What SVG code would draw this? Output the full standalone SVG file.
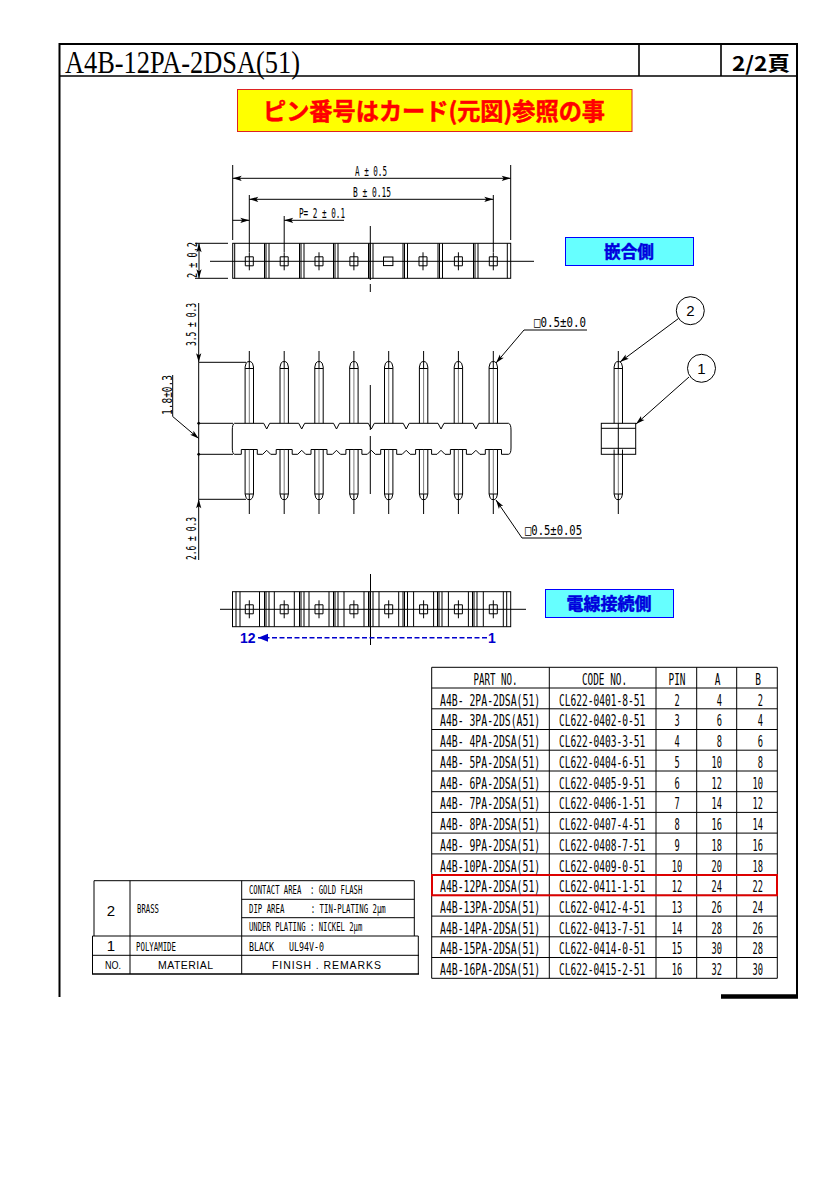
<svg xmlns="http://www.w3.org/2000/svg" width="835" height="1181" viewBox="0 0 835 1181">
<style>
.s{fill:none;stroke:#000;stroke-width:1}
.c{fill:none;stroke:#444;stroke-width:.7}
text{fill:#000;font-family:"DejaVu Sans Mono","Noto Sans CJK JP",monospace;white-space:pre;}
.t{font-size:15px}
.d{font-size:13.5px}
.f{font-size:12.5px}
.sa{font-family:"Liberation Sans",sans-serif}
.cjk{font-family:"Noto Sans CJK JP",sans-serif;font-weight:700}
.bl{font-size:17px;fill:#00d;stroke:#00d;stroke-width:.5}
</style>
<defs>
<marker id="a" markerUnits="userSpaceOnUse" markerWidth="11" markerHeight="7" viewBox="-10 -3.5 11 7" refX="0" refY="0" orient="auto-start-reverse"><path d="M-9,-2.6L0,0L-9,2.6L-7,0Z" fill="#000"/></marker>
<marker id="b" markerUnits="userSpaceOnUse" markerWidth="12" markerHeight="9" viewBox="-11 -4.5 12 9" refX="0" refY="0" orient="auto"><path d="M-10,-4L0,0L-10,4Z" fill="#00c"/></marker>
<g id="pinfront">
<path class="s" d="M-4.2,423.3V367Q-3.5,362 -1.5,361.7H1.5Q3.5,362 4.2,367V423.3M-4.2,368.5H4.2"/>
<path class="s" d="M-4.2,449.5V494Q-3.5,499 -1.5,499.5H1.5Q3.5,499 4.2,494V449.5M-4.2,494H4.2"/>
<path class="s" d="M0,351V369M0,494V514"/>
<path class="c" d="M0,369V423.3M0,449.5V494"/>
</g>
<g id="cell"><path class="s" d="M-4,-4.5H4V4.5H-4Z"/><path class="s" d="M0,-9V9"/></g>
<path id="sep" class="s" d="M-2.5,0V35M-1,0V35M2,0V35"/>
</defs>
<rect width="835" height="1181" fill="#fff"/>

<g id="frame">
<path d="M59.5,997V44H797V997" fill="none" stroke="#000" stroke-width="2"/>
<path d="M59.5,76H797M639,44V76M721,44V76" fill="none" stroke="#000" stroke-width="1.6"/>
<path d="M721,996.5H798" stroke="#000" stroke-width="4.5"/>
<text x="65" y="72.5" textLength="235" lengthAdjust="spacingAndGlyphs" style="font-family:'Liberation Serif',serif;font-size:31px">A4B-12PA-2DSA(51)</text>
<text x="732" y="71" textLength="58" lengthAdjust="spacingAndGlyphs" style="font-family:'Noto Sans CJK JP',sans-serif;font-size:20px;font-weight:700">2/2頁</text>
</g>

<g id="note-pin-number">
<rect x="237.5" y="89.5" width="394.5" height="42" fill="#ff0" stroke="#d22" stroke-width="1"/>
<text class="cjk" x="263" y="120" textLength="342" lengthAdjust="spacingAndGlyphs" style="font-size:24px;fill:#f00;stroke:#f00;stroke-width:.5">ピン番号はカード(元図)参照の事</text>
</g>

<g id="label-mating">
<rect x="565.5" y="237.5" width="128" height="28" fill="#6ff" stroke="#00f" stroke-width="1"/>
<text class="cjk bl" x="604" y="258" textLength="50" lengthAdjust="spacingAndGlyphs">嵌合側</text>
</g>
<g id="label-wire">
<rect x="545.5" y="589.5" width="128" height="28" fill="#6ff" stroke="#00f" stroke-width="1"/>
<text class="cjk bl" x="566.5" y="610" textLength="85" lengthAdjust="spacingAndGlyphs">電線接続側</text>
</g>

<g id="top-view">
<rect class="s" x="232.7" y="243.3" width="278" height="35"/>
<path class="s" d="M234.7,243.3V278.3M507.3,243.3V278.3M210,261.3H534M370.3,226V280M370.3,284V292"/>
<use href="#sep" x="267" y="243.3"/><use href="#sep" x="302" y="243.3"/><use href="#sep" x="336" y="243.3"/><use href="#sep" x="371" y="243.3"/><use href="#sep" x="405.5" y="243.3"/><use href="#sep" x="440.5" y="243.3"/><use href="#sep" x="476" y="243.3"/>
<use href="#cell" x="249.3" y="261.3"/><use href="#cell" x="284.2" y="261.3"/><use href="#cell" x="319" y="261.3"/><use href="#cell" x="353.9" y="261.3"/>
<rect class="s" x="383.5" y="257" width="9.4" height="8.6"/>
<use href="#cell" x="423" y="261.3"/><use href="#cell" x="458.4" y="261.3"/><use href="#cell" x="493.3" y="261.3"/>
</g>

<g id="connectors">
<path class="s" d="M232.7,165V240M510.7,165V240M249.3,195V252M493.3,195V252M284.2,216V252"/>
<path class="s" d="M232.7,178.3H510.7" marker-start="url(#a)" marker-end="url(#a)"/>
<path class="s" d="M249.3,199.3H493.3" marker-start="url(#a)" marker-end="url(#a)"/>
<path class="s" d="M232.7,220.3H249.3" marker-end="url(#a)"/>
<path class="s" d="M344,220.3H284.2" marker-end="url(#a)"/>
<path class="s" d="M195,243.3H228M195,278.3H228"/>
<path class="s" d="M199,243.3V278.3" marker-start="url(#a)" marker-end="url(#a)"/>
<path class="s" d="M198.7,303V362.3" marker-end="url(#a)"/>
<path class="s" d="M198.7,362.3V454.3"/>
<path class="s" d="M198.7,560V499.3" marker-end="url(#a)"/>
<path class="s" d="M198.7,362.3H246M198.7,423.3H233M198.7,454.3H233M198.7,499.3H246M198.7,454.3V499.3"/>
<circle cx="198.7" cy="423.3" r="1.4"/><circle cx="198.7" cy="454.3" r="1.4"/>
<path class="s" d="M172.7,375V416.5L198.7,438.5" marker-end="url(#a)"/>
<path class="s" d="M587,330H524L496,363" marker-end="url(#a)"/>
<path class="s" d="M582,538H522L496,500" marker-end="url(#a)"/>
<path class="s" d="M678.5,318.5L620,362" marker-end="url(#a)"/>
<path class="s" d="M689,377L636,424" marker-end="url(#a)"/>
</g>

<g id="dim-texts">
<text class="d" x="355" y="176" textLength="32" lengthAdjust="spacingAndGlyphs">A ± 0.5</text>
<text class="d" x="353" y="197" textLength="38" lengthAdjust="spacingAndGlyphs">B ± 0.15</text>
<text class="d" x="299" y="218" textLength="46" lengthAdjust="spacingAndGlyphs">P= 2 ± 0.1</text>
<text class="d" transform="translate(197,278) rotate(-90)" textLength="36" lengthAdjust="spacingAndGlyphs">2 ± 0.2</text>
<text class="d" transform="translate(196,346) rotate(-90)" textLength="43" lengthAdjust="spacingAndGlyphs">3.5 ± 0.3</text>
<text class="d" transform="translate(196,560) rotate(-90)" textLength="43" lengthAdjust="spacingAndGlyphs">2.6 ± 0.3</text>
<text class="d" transform="translate(171.5,415) rotate(-90)" textLength="40" lengthAdjust="spacingAndGlyphs">1.8±0.3</text>
<text class="d" x="534" y="327" textLength="52" lengthAdjust="spacingAndGlyphs">□0.5±0.0</text>
<text class="d" x="525" y="535" textLength="57" lengthAdjust="spacingAndGlyphs">□0.5±0.05</text>
</g>

<g id="front-view">
<path class="s" d="M234.5,423.3H263.7L266.7,429L269.7,423.3H298.7L301.7,429L304.7,423.3H333.5L336.5,429L339.5,423.3H368.3L371.3,429L374.3,423.3H403.2L406.2,429L409.2,423.3H438L441,429L444,423.3H472.9L475.9,429L478.9,423.3H508.5Q511,424 511,430V448Q511,454 508.5,454.3H501.5V449.5H485.3V454.3H479.9L475.9,450.3L471.9,454.3H466.4V449.5H450.4V454.3H445L441,450.3L437,454.3H431.6V449.5H415.6V454.3H410.2L406.2,450.3L402.2,454.3H396.7V449.5H380.7V454.3H375.3L371.3,450.3L367.3,454.3H361.9V449.5H345.9V454.3H340.5L336.5,450.3L332.5,454.3H327V449.5H311V454.3H305.7L301.7,450.3L297.7,454.3H292.2V449.5H276.2V454.3H270.7L266.7,450.3L262.7,454.3H257.3V449.5H241.3V454.3H234.5Q232.3,454 232.3,448V430Q232.3,424 234.5,423.3Z"/>
<use href="#pinfront" x="249.3"/><use href="#pinfront" x="284.2"/><use href="#pinfront" x="319"/><use href="#pinfront" x="353.9"/><use href="#pinfront" x="388.7"/><use href="#pinfront" x="423.6"/><use href="#pinfront" x="458.4"/><use href="#pinfront" x="493.3"/>
<path class="s" d="M370.3,385V430M370.3,436V494"/>
</g>

<g id="side-view">
<use href="#pinfront" x="618.3"/>
<rect class="s" x="601.3" y="423.3" width="34.4" height="31"/>
<path class="s" d="M601.3,428.3H635.7M601.3,448.3H635.7M618.3,423.3V454.3"/>
</g>
<g id="balloon-2"><circle class="s" cx="690.3" cy="310.7" r="14"/><text class="sa" x="690.3" y="316" text-anchor="middle" style="font-size:15px">2</text></g>
<g id="balloon-1"><circle class="s" cx="701.5" cy="368.3" r="14"/><text class="sa" x="701.5" y="373.5" text-anchor="middle" style="font-size:15px">1</text></g>

<g id="bottom-view">
<rect class="s" x="232.5" y="591.7" width="278.2" height="35"/>
<path class="s" d="M236,591.7V626.7M506.7,591.7V626.7M240,591.7V626.7M259.5,591.7V626.7M274.3,591.7V626.7M294.3,591.7V626.7M309,591.7V626.7M329,591.7V626.7M344,591.7V626.7M364,591.7V626.7M379,591.7V626.7M398.7,591.7V626.7M413.6,591.7V626.7M433.6,591.7V626.7M448.4,591.7V626.7M468.4,591.7V626.7M483.3,591.7V626.7M503.3,591.7V626.7"/>
<use href="#sep" x="267" y="591.7"/><use href="#sep" x="302" y="591.7"/><use href="#sep" x="336" y="591.7"/><use href="#sep" x="371" y="591.7"/><use href="#sep" x="405.5" y="591.7"/><use href="#sep" x="440" y="591.7"/><use href="#sep" x="475" y="591.7"/>
<use href="#cell" x="249.3" y="609.3"/><use href="#cell" x="284.2" y="609.3"/><use href="#cell" x="319" y="609.3"/><use href="#cell" x="353.9" y="609.3"/><use href="#cell" x="388.7" y="609.3"/><use href="#cell" x="423.6" y="609.3"/><use href="#cell" x="458.4" y="609.3"/><use href="#cell" x="493.3" y="609.3"/>
<path class="s" d="M220,609.3H526M370.5,574V645"/>
</g>
<g id="pin-order">
<path d="M487,637.7H258" fill="none" stroke="#00c" stroke-width="1.6" stroke-dasharray="5 2.5" marker-end="url(#b)"/>
<text class="sa" x="240" y="643" style="font-size:14px;font-weight:700;fill:#00c">12</text>
<text class="sa" x="488" y="643" style="font-size:14px;font-weight:700;fill:#00c">1</text>
</g>

<g id="part-table">
<path class="s" d="M431.7,667.3H777.3V978.3H431.7ZM549.3,667.3V978.3M656,667.3V978.3M696.7,667.3V978.3M736.7,667.3V978.3M431.7,688H777.3M431.7,708.8H777.3M431.7,729.5H777.3M431.7,750.2H777.3M431.7,771H777.3M431.7,791.7H777.3M431.7,812.4H777.3M431.7,833.1H777.3M431.7,853.9H777.3M431.7,874.6H777.3M431.7,895.3H777.3M431.7,916.1H777.3M431.7,936.8H777.3M431.7,957.5H777.3"/>
<rect x="432" y="875" width="345" height="20.3" fill="none" stroke="#d00" stroke-width="2"/>
<g class="t" text-anchor="middle">
<g transform="translate(495.5 0) scale(.61 1)"><text y="685">PART NO.</text></g>
<g transform="translate(604.5 0) scale(.625 1)"><text y="685">CODE NO.</text></g>
<g transform="translate(677 0) scale(.63 1)"><text y="685">PIN</text></g>
<g transform="translate(717.5 0) scale(.63 1)"><text y="685">A</text></g>
<g transform="translate(758 0) scale(.63 1)"><text y="685">B</text></g>
</g>
<g class="t" transform="translate(440 0) scale(.653 1)">
<text y="705.8">A4B- 2PA-2DSA(51)</text>
<text y="726.5">A4B- 3PA-2DS(A51)</text>
<text y="747.2">A4B- 4PA-2DSA(51)</text>
<text y="768">A4B- 5PA-2DSA(51)</text>
<text y="788.7">A4B- 6PA-2DSA(51)</text>
<text y="809.4">A4B- 7PA-2DSA(51)</text>
<text y="830.1">A4B- 8PA-2DSA(51)</text>
<text y="850.9">A4B- 9PA-2DSA(51)</text>
<text y="871.6">A4B-10PA-2DSA(51)</text>
<text y="892.3">A4B-12PA-2DSA(51)</text>
<text y="913.1">A4B-13PA-2DSA(51)</text>
<text y="933.8">A4B-14PA-2DSA(51)</text>
<text y="954.5">A4B-15PA-2DSA(51)</text>
<text y="975.3">A4B-16PA-2DSA(51)</text>
</g>
<g class="t" transform="translate(559 0) scale(.637 1)">
<text y="705.8">CL622-0401-8-51</text>
<text y="726.5">CL622-0402-0-51</text>
<text y="747.2">CL622-0403-3-51</text>
<text y="768">CL622-0404-6-51</text>
<text y="788.7">CL622-0405-9-51</text>
<text y="809.4">CL622-0406-1-51</text>
<text y="830.1">CL622-0407-4-51</text>
<text y="850.9">CL622-0408-7-51</text>
<text y="871.6">CL622-0409-0-51</text>
<text y="892.3">CL622-0411-1-51</text>
<text y="913.1">CL622-0412-4-51</text>
<text y="933.8">CL622-0413-7-51</text>
<text y="954.5">CL622-0414-0-51</text>
<text y="975.3">CL622-0415-2-51</text>
</g>
<g class="t" text-anchor="middle" transform="translate(677 0) scale(.58 1)">
<text y="705.8">2</text><text y="726.5">3</text><text y="747.2">4</text><text y="768">5</text><text y="788.7">6</text><text y="809.4">7</text><text y="830.1">8</text><text y="850.9">9</text><text y="871.6">10</text><text y="892.3">12</text><text y="913.1">13</text><text y="933.8">14</text><text y="954.5">15</text><text y="975.3">16</text>
</g>
<g class="t" text-anchor="end" transform="translate(722 0) scale(.58 1)">
<text y="705.8">4</text><text y="726.5">6</text><text y="747.2">8</text><text y="768">10</text><text y="788.7">12</text><text y="809.4">14</text><text y="830.1">16</text><text y="850.9">18</text><text y="871.6">20</text><text y="892.3">24</text><text y="913.1">26</text><text y="933.8">28</text><text y="954.5">30</text><text y="975.3">32</text>
</g>
<g class="t" text-anchor="end" transform="translate(763 0) scale(.58 1)">
<text y="705.8">2</text><text y="726.5">4</text><text y="747.2">6</text><text y="768">8</text><text y="788.7">10</text><text y="809.4">12</text><text y="830.1">14</text><text y="850.9">16</text><text y="871.6">18</text><text y="892.3">22</text><text y="913.1">24</text><text y="933.8">26</text><text y="954.5">28</text><text y="975.3">30</text>
</g>
</g>

<g id="material-table">
<path class="s" d="M94,880.7H414.3V936M94,880.7V936M130,880.7V974M241.7,880.7V974M241.7,899.3H414.3M241.7,917.7H414.3M92.5,936H418.3V974M92.5,955.3H419M92.5,936V974"/>
<path d="M92,974H419" stroke="#000" stroke-width="1.6"/>
<text class="sa" x="111" y="915.5" text-anchor="middle" style="font-size:15px">2</text>
<text class="sa" x="111" y="951" text-anchor="middle" style="font-size:15px">1</text>
<text class="f" x="137" y="912.7" textLength="22" lengthAdjust="spacingAndGlyphs">BRASS</text>
<text class="f" transform="translate(249,894) scale(.58,1)">CONTACT AREA  : GOLD FLASH</text>
<text class="f" transform="translate(249,912.7) scale(.587,1)">DIP AREA      : TIN-PLATING 2μm</text>
<text class="f" transform="translate(249,931) scale(.58,1)">UNDER PLATING : NICKEL 2μm</text>
<text class="f" x="136" y="950.7" textLength="40" lengthAdjust="spacingAndGlyphs">POLYAMIDE</text>
<text class="f" x="249" y="950.7" textLength="75" lengthAdjust="spacingAndGlyphs">BLACK   UL94V-0</text>
<text class="sa" x="105" y="969" textLength="16" lengthAdjust="spacingAndGlyphs" style="font-size:10.5px">NO.</text>
<text class="sa" x="158" y="969" textLength="55" style="font-size:10.5px">MATERIAL</text>
<text class="sa" x="272" y="969" textLength="109" style="font-size:10.5px">FINISH . REMARKS</text>
</g>
</svg>
